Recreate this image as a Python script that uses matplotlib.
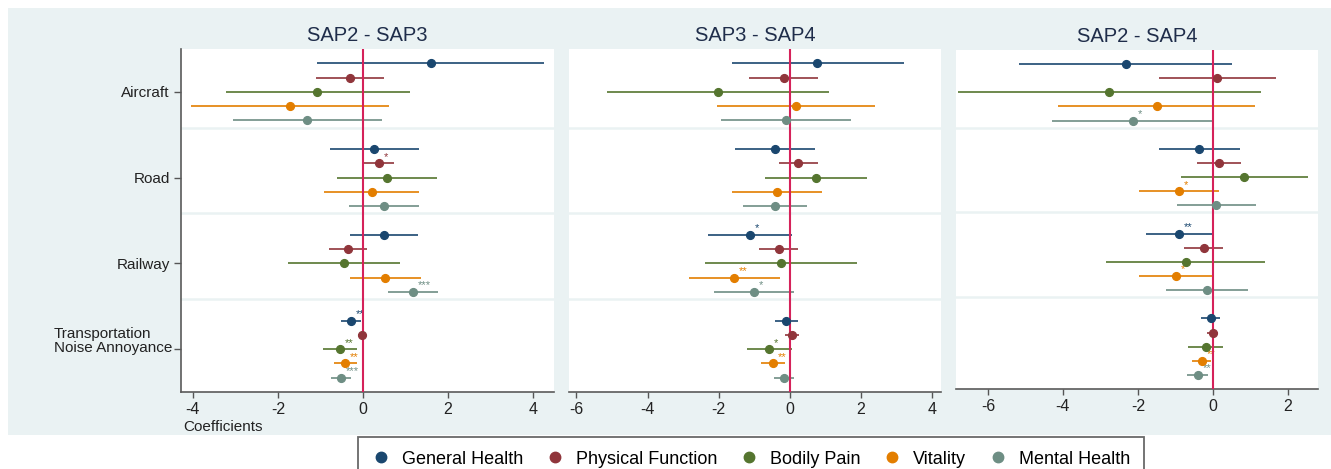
import numpy as np
import matplotlib
matplotlib.use("Agg")
import matplotlib.pyplot as plt
from matplotlib.patches import Rectangle
from matplotlib.lines import Line2D

plt.rcParams['font.family'] = ['Liberation Sans', 'DejaVu Sans']

# categories and series
groups = ["Aircraft", "Road", "Railway", "Transportation\nNoise Annoyance"]
series = ["General Health", "Physical Function", "Bodily Pain", "Vitality", "Mental Health"]
colors = ["#1A476F", "#90353B", "#55752F", "#E37E00", "#6E8E84"]
titles = ["SAP2 - SAP3", "SAP3 - SAP4", "SAP2 - SAP4"]

# SAP2 - SAP3 : rows = groups, cols = series
sap23_coef = [[1.60, -0.30, -1.07, -1.72, -1.31],
              [0.27, 0.37, 0.57, 0.21, 0.50],
              [0.50, -0.35, -0.45, 0.53, 1.18],
              [-0.28, -0.03, -0.54, -0.41, -0.52]]
sap23_lo = [[-1.08, -1.10, -3.22, -4.05, -3.06],
            [-0.78, 0.02, -0.60, -0.91, -0.32],
            [-0.31, -0.80, -1.77, -0.31, 0.59],
            [-0.51, -0.12, -0.94, -0.69, -0.76]]
sap23_hi = [[4.27, 0.50, 1.10, 0.62, 0.44],
            [1.32, 0.74, 1.75, 1.32, 1.32],
            [1.31, 0.10, 0.88, 1.37, 1.78],
            [-0.05, 0.06, -0.13, -0.13, -0.27]]
sap23_stars = [["", "", "", "", ""],
               ["", "*", "", "", ""],
               ["", "", "", "", "***"],
               ["**", "", "**", "**", "***"]]

# SAP3 - SAP4
sap34_coef = [[0.78, -0.17, -2.01, 0.17, -0.10],
              [-0.42, 0.24, 0.74, -0.36, -0.41],
              [-1.12, -0.31, -0.24, -1.56, -1.01],
              [-0.09, 0.07, -0.57, -0.48, -0.16]]
sap34_lo = [[-1.63, -1.15, -5.15, -2.05, -1.93],
            [-1.55, -0.29, -0.69, -1.62, -1.32],
            [-2.29, -0.86, -2.37, -2.83, -2.14],
            [-0.42, -0.12, -1.19, -0.82, -0.43]]
sap34_hi = [[3.22, 0.80, 1.11, 2.39, 1.72],
            [0.71, 0.79, 2.18, 0.91, 0.48],
            [0.06, 0.24, 1.90, -0.28, 0.12],
            [0.24, 0.25, 0.06, -0.13, 0.11]]
sap34_stars = [["", "", "", "", ""],
               ["", "", "", "", ""],
               ["*", "", "", "**", "*"],
               ["", "", "*", "**", ""]]

# SAP2 - SAP4
sap24_coef = [[-2.32, 0.12, -2.76, -1.49, -2.13],
              [-0.36, 0.16, 0.84, -0.91, 0.09],
              [-0.90, -0.24, -0.73, -0.98, -0.16],
              [-0.06, 0.00, -0.19, -0.29, -0.40]]
sap24_lo = [[-5.17, -1.44, -6.79, -4.12, -4.29],
            [-1.45, -0.43, -0.86, -1.96, -0.97],
            [-1.78, -0.76, -2.84, -1.96, -1.25],
            [-0.33, -0.17, -0.66, -0.56, -0.68]]
sap24_hi = [[0.52, 1.68, 1.27, 1.12, 0.03],
            [0.72, 0.74, 2.54, 0.15, 1.14],
            [0.00, 0.28, 1.39, 0.01, 0.93],
            [0.20, 0.14, 0.28, -0.04, -0.12]]
sap24_stars = [["", "", "", "", "*"],
               ["", "", "", "*", ""],
               ["**", "", "", "*", ""],
               ["", "", "", "**", "**"]]

W, H = 1331, 469
bg = "#EAF2F3"
fig = plt.figure(figsize=(W / 100, H / 100), dpi=100, facecolor="white")

# light background behind the three panels
fig.add_artist(Rectangle((8 / W, 1 - 435 / H), (W - 8) / W, 427 / H,
                         transform=fig.transFigure, facecolor=bg, edgecolor="none", zorder=-10))

def box(l, r, t, b):
    return [l / W, 1 - b / H, (r - l) / W, (b - t) / H]

ax1 = fig.add_axes(box(181, 554, 49, 392))
ax2 = fig.add_axes(box(569, 941, 49, 392))
ax3 = fig.add_axes(box(956, 1318, 50, 389))

panels = [
    (ax1, sap23_coef, sap23_lo, sap23_hi, sap23_stars, (-4.28, 4.50), [-4, -2, 0, 2, 4]),
    (ax2, sap34_coef, sap34_lo, sap34_hi, sap34_stars, (-6.21, 4.26), [-6, -4, -2, 0, 2, 4]),
    (ax3, sap24_coef, sap24_lo, sap24_hi, sap24_stars, (-6.85, 2.80), [-6, -4, -2, 0, 2]),
]

for i, (ax, coef, lo, hi, stars, xlim, xticks) in enumerate(panels):
    ax.set_facecolor("white")
    for g in range(len(groups)):
        if g > 0:
            ax.axhline(g * 6 - 1.5, color=bg, lw=1.8, zorder=1)
        for s in range(len(series)):
            y = g * 6 + s
            ax.hlines(y, lo[g][s], hi[g][s], color=colors[s], lw=1.2, zorder=2)
            ax.plot(coef[g][s], y, "o", color=colors[s], ms=5.6, mec=colors[s], zorder=4)
            if stars[g][s]:
                ax.annotate(stars[g][s], (coef[g][s], y), xytext=(3.5, 2.5),
                            textcoords="offset points", fontsize=8, color=colors[s],
                            ha="left", va="baseline")
    ax.axvline(0, color="#D5225A", lw=1.5, zorder=3)
    ax.set_xlim(xlim)
    ax.set_ylim(23, -1)
    ax.set_xticks(xticks)
    ax.set_xticklabels([str(t) for t in xticks])
    ax.tick_params(axis="x", length=4, width=1, color="#555555", labelsize=11.5,
                   labelcolor="#222222", pad=3)
    ax.set_title(titles[i], fontsize=14.5, color="#1F2D4A", pad=6)
    for side in ["top", "right", "left"]:
        ax.spines[side].set_visible(False)
    ax.spines["bottom"].set_color("#5A5A5A")
    ax.spines["bottom"].set_linewidth(1.2)
    if i == 0:
        ax.spines["left"].set_visible(True)
        ax.spines["left"].set_color("#5A5A5A")
        ax.spines["left"].set_linewidth(1.2)
        ax.set_yticks([g * 6 + 2 for g in range(len(groups))])
        ax.set_yticklabels(groups[:-1] + [""])
        ax.tick_params(axis="y", length=5, width=1, color="#555555", labelsize=11,
                       labelcolor="#222222", pad=3)
        ax.annotate(groups[-1], xy=(0, 3 * 6 + 2), xycoords=ax.get_yaxis_transform(),
                    xytext=(-6.5, 6), textcoords="offset points", ha="right", va="center",
                    multialignment="left", fontsize=11, color="#222222", linespacing=1.05)
    else:
        ax.set_yticks([])

fig.text(183 / W, 1 - 427 / H, "Coefficients", fontsize=11, color="#222222", va="center", ha="left")

handles = [Line2D([], [], marker="o", ls="none", color=c, ms=7.5) for c in colors]
leg = fig.legend(handles, series, loc="upper left", bbox_to_anchor=(358 / W, 1 - 437 / H),
                 ncol=5, fontsize=13, frameon=True, fancybox=False, handlelength=1.0,
                 handletextpad=0.67, columnspacing=1.25, borderpad=0.75, borderaxespad=0)
leg.get_frame().set_edgecolor("#444444")
leg.get_frame().set_linewidth(1.3)

fig.savefig("out.png", dpi=100, facecolor="white")
